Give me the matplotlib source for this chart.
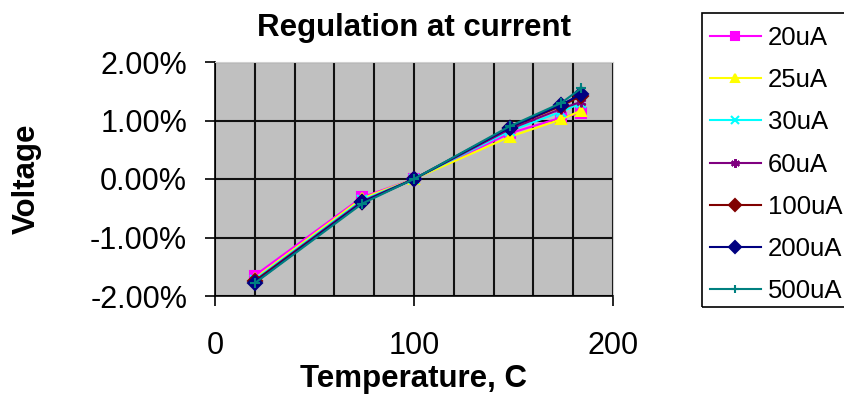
import matplotlib
matplotlib.use("Agg")
import matplotlib.pyplot as plt
from matplotlib.patches import Rectangle
from matplotlib.ticker import FuncFormatter, MultipleLocator

plt.rcParams["font.family"] = ["Liberation Sans", "DejaVu Sans"]

# temperature (C) and voltage regulation (%) per bias current
temps = [20, 74, 100, 148, 174, 184]
labels = ["20uA", "25uA", "30uA", "60uA", "100uA", "200uA", "500uA"]
v_20ua = [-1.65, -0.31, 0.0, 0.78, 1.05, 1.13]
v_25ua = [-1.70, -0.33, 0.0, 0.72, 1.02, 1.17]
v_30ua = [-1.72, -0.36, 0.0, 0.82, 1.15, 1.30]
v_60ua = [-1.74, -0.38, 0.0, 0.85, 1.20, 1.32]
v_100ua = [-1.75, -0.40, 0.0, 0.88, 1.25, 1.42]
v_200ua = [-1.77, -0.40, 0.0, 0.88, 1.27, 1.45]
v_500ua = [-1.78, -0.42, 0.0, 0.90, 1.30, 1.55]
series = [v_20ua, v_25ua, v_30ua, v_60ua, v_100ua, v_200ua, v_500ua]

colors = ["#FF00FF", "#FFFF00", "#00FFFF", "#800080", "#800000", "#000080", "#008080"]
markers = ["s", "^", "x", (6, 2, 0), "D", "D", "+"]

W, H = 845, 398
fig = plt.figure(figsize=(W / 100, H / 100), dpi=100)
ax = fig.add_axes([215 / W, 102 / H, 398 / W, 234 / H])
ax.set_facecolor("#C0C0C0")

for lab, ys, c, m in zip(labels, series, colors, markers):
    ax.plot(temps, ys, color=c, lw=1.5, marker=m, ms=7, mew=1.5,
            mfc=c, mec=c, label=lab)

ax.set_xlim(0, 200)
ax.set_ylim(-2, 2)
ax.xaxis.set_major_locator(MultipleLocator(100))
ax.xaxis.set_minor_locator(MultipleLocator(20))
ax.yaxis.set_major_locator(MultipleLocator(1))
ax.yaxis.set_major_formatter(FuncFormatter(lambda v, _: f"{v:.2f}%"))
ax.grid(True, which="both", color="#111111", lw=1.5)
ax.set_axisbelow(True)
ax.tick_params(axis="both", which="major", direction="out", length=7,
               width=1.2, labelsize=22, colors="black", pad=13)
ax.tick_params(axis="x", which="major", pad=18)
ax.tick_params(axis="x", which="minor", length=0)
for s in ["top", "right"]:
    ax.spines[s].set_color("#D0D0D0")
for s in ["left", "bottom"]:
    ax.spines[s].set_color("black")
    ax.spines[s].set_linewidth(1.2)

ax.set_title("Regulation at current", fontsize=22.5, fontweight="bold", pad=19)
ax.set_xlabel("Temperature, C", fontsize=22.5, fontweight="bold")
ax.set_ylabel("Voltage", fontsize=22.5, fontweight="bold")
ax.xaxis.set_label_coords(0.5, (296 - 364) / 234)
ax.yaxis.set_label_coords((42 - 215) / 398, 0.5)

# legend box drawn by hand so it runs off the right edge like the original
fig.patches.append(Rectangle((702 / W, 1 - 307 / H), 160 / W, 294 / H,
                             transform=fig.transFigure, fill=False,
                             edgecolor="black", lw=1.2))
fig.legend(loc="upper left", bbox_to_anchor=(710 / W, 1 - 26 / H),
           fontsize=18.5, frameon=False, handlelength=1.98,
           handletextpad=0.27, labelspacing=0.71, borderpad=0,
           borderaxespad=0, markerscale=0.9)

fig.savefig("out.png", dpi=100, facecolor="white")
